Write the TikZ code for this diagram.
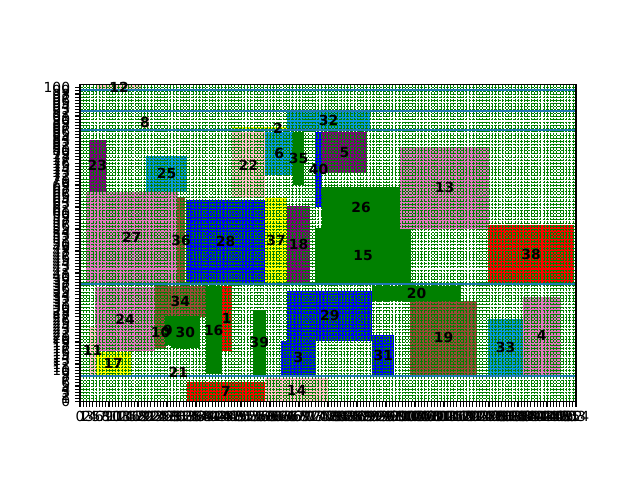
\documentclass[tikz,border=0pt]{standalone}
\usepackage{fontspec}
\setmainfont{DejaVu Sans}
\pgfdeclarelayer{gridlayer}
\pgfdeclarelayer{fg}
\pgfsetlayers{main,gridlayer,fg}
\definecolor{mpink}{HTML}{FFC0CB}
\definecolor{hpink}{HTML}{E377C2}
\definecolor{sky}{HTML}{0A98E0}
\definecolor{mblue}{HTML}{0000FF}
\definecolor{mgreen}{HTML}{008000}
\definecolor{mpurple}{HTML}{800080}
\definecolor{mbrown}{HTML}{9A4B3A}
\definecolor{mred}{HTML}{FF0000}
\definecolor{myellow}{HTML}{FFFF00}
\definecolor{lineblue}{HTML}{1F77B4}
\newcommand\rbox[6]{%
  \fill[#1] (#2,#3) rectangle (#4,#5);
  \begin{pgfonlayer}{fg}
    \node[lab] (r#6) at ({(#2+#4)/2},{(#3+#5)/2}) {#6};
  \end{pgfonlayer}}
\begin{document}
\begin{tikzpicture}[x=1pt,y=-1pt,
  lab/.style={font=\fontsize{13.9}{16}\selectfont\bfseries, inner sep=0pt, text=black},
  ticklab/.style={font=\fontsize{13.9}{16}\selectfont, inner sep=0pt},
  gridline/.style={draw=mgreen, line width=0.45pt, dash pattern=on 2.6pt off 1.1pt},
  level/.style={draw=lineblue, line width=2.1pt},
  tickmark/.style={draw=black, line width=1.1pt},
  spine/.style={draw=black, line width=1.1pt}]
\useasboundingbox (0,0) rectangle (640,480);
\fill[white] (0,0) rectangle (640,480);
\coordinate (axNW) at (80,84.5);
\coordinate (axSE) at (576,401.7);
% upper strips
\rbox{mpink}{96}{84.6}{142}{90}{12}
\rbox{mpink}{140.7}{115.7}{149.3}{128.3}{8}
\rbox{myellow}{231.7}{127.2}{324}{130.3}{2}
\rbox{sky}{287.3}{111.7}{370}{129.3}{32}
% middle strip
\rbox{mpurple}{89}{140}{105.7}{191.7}{23}
\rbox{sky}{146}{156}{187}{191.7}{25}
\rbox{hpink}{85.7}{191.7}{177.7}{283.3}{27}
\rbox{mbrown}{177}{196.7}{185.3}{283.3}{36}
\rbox{mblue}{186}{200}{265}{283.3}{28}
\rbox{mpink}{231.7}{131.7}{265}{198.3}{22}
\rbox{sky}{265}{131.7}{293.3}{175}{6}
\rbox{mgreen}{293.3}{131.7}{304}{185}{35}
\rbox{mblue}{315}{132.3}{322.3}{206.7}{40}
\rbox{mpurple}{322.3}{132.3}{366.7}{172.7}{5}
\rbox{mgreen}{322.3}{186.7}{400}{228.3}{26}
\rbox{mgreen}{315}{228.3}{411}{283.3}{15}
\rbox{hpink}{400}{146.7}{489}{229}{13}
\rbox{mred}{488.3}{225}{574}{283.3}{38}
\rbox{myellow}{265}{197.7}{287.3}{283.3}{37}
\rbox{mpurple}{287.3}{206}{310}{283.3}{18}
% lower strip
\rbox{hpink}{95}{286.7}{155}{351}{24}
\rbox{mpink}{89.3}{326.7}{95.7}{375}{11}
\rbox{myellow}{95.7}{351.7}{130.7}{375}{17}
\rbox{mbrown}{155}{286}{205.7}{316.7}{34}
\rbox{mbrown}{155}{316.7}{166}{348.3}{10}
\rbox{mgreen}{165}{316}{170.7}{345.3}{9}
\rbox{mgreen}{170.7}{316}{200}{348.3}{30}
\rbox{mgreen}{205.7}{286}{221.7}{374}{16}
\rbox{mred}{221.7}{286}{231.7}{351}{1}
\rbox{mpink}{170}{369}{186.7}{375}{21}
\rbox{mgreen}{252.7}{310}{266}{375}{39}
\rbox{mblue}{287.3}{290.7}{372.3}{340.7}{29}
\rbox{mblue}{281}{340.7}{316}{375}{3}
\rbox{mblue}{372.3}{335}{394.3}{375}{31}
\rbox{mgreen}{372.3}{285.7}{460.7}{300.7}{20}
\rbox{mbrown}{410}{300.7}{477.3}{375}{19}
\rbox{sky}{488.3}{319}{522.7}{375}{33}
\rbox{hpink}{522.7}{296.7}{560.7}{375}{4}
% bottom strip
\rbox{mred}{186.7}{381.7}{265}{401.7}{7}
\rbox{mpink}{265}{378.3}{328}{401.7}{14}
% grid and level lines
\begin{pgfonlayer}{gridlayer}
  \foreach \k in {0,...,154}
    \draw[gridline] ({80+\k*3.220779},84.5) -- ({80+\k*3.220779},401.7);
  \foreach \k in {0,...,101}
    \draw[gridline] (80,{401.7-\k*3.14}) -- (576,{401.7-\k*3.14});
  \foreach \yy in {90,110.8,130.3,284.3,376}
    \draw[level] (80,\yy) -- (576,\yy);
\end{pgfonlayer}
% axes
\begin{pgfonlayer}{fg}
  \draw[spine] (axNW) rectangle (axSE);
  \foreach \k in {0,...,154}{
    \draw[tickmark] ({80+\k*3.220779},401.7) -- ({80+\k*3.220779},406.6);
    \node[ticklab,anchor=north] (xt\k) at ({80+\k*3.220779},411.4) {\k};
  }
  \foreach \k in {0,...,100}{
    \draw[tickmark] (80,{401.7-\k*3.14}) -- (75.1,{401.7-\k*3.14});
    \node[ticklab,anchor=east] (yt\k) at (70.3,{401.7-\k*3.14}) {\k};
  }
\end{pgfonlayer}
\end{tikzpicture}
\end{document}
